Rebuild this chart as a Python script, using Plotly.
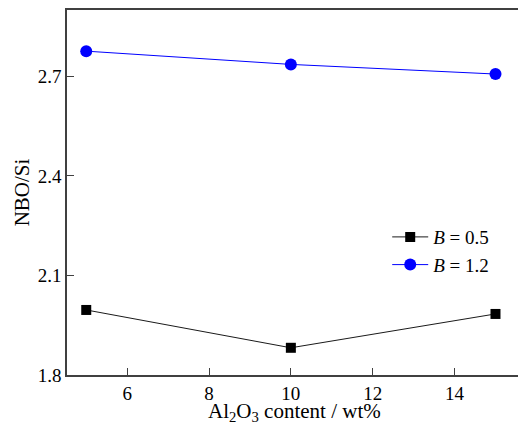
import plotly.graph_objects as go

# Al2O3 content (wt%) and NBO/Si for two basicity levels
al2o3 = [5, 10, 15]
nbo_si_b05 = [1.996, 1.882, 1.984]
nbo_si_b12 = [2.776, 2.736, 2.707]
series_names = ["<i>B</i> = 0.5", "<i>B</i> = 1.2"]
y_ticks = [1.8, 2.1, 2.4, 2.7]
x_ticks = [6, 8, 10, 12, 14]
x_title = "Al<sub>2</sub>O<sub>3</sub> content / wt%"
y_title = "NBO/Si"

font_family = "Times New Roman, Liberation Serif, serif"
axis_color = "#404040"
text_size = 21

fig = go.Figure()
fig.add_trace(go.Scatter(
    x=al2o3, y=nbo_si_b05, name=series_names[0], mode="lines+markers",
    line=dict(color="#1a1a1a", width=1),
    marker=dict(symbol="square", size=10, color="black"),
))
fig.add_trace(go.Scatter(
    x=al2o3, y=nbo_si_b12, name=series_names[1], mode="lines+markers",
    line=dict(color="#0000ff", width=1),
    marker=dict(symbol="circle", size=12, color="#0000ff"),
))

# x-axis title placed as a paper annotation just below the tick labels
fig.add_annotation(
    text=x_title, xref="paper", yref="paper", x=0.505, y=0,
    xanchor="center", yanchor="top", yshift=-22, showarrow=False,
    font=dict(size=text_size, family=font_family, color="black"),
)

fig.update_layout(
    width=518, height=423,
    margin=dict(l=67, r=0, t=10, b=48),
    paper_bgcolor="white", plot_bgcolor="white",
    font=dict(family=font_family, size=text_size, color="black"),
    showlegend=True,
    legend=dict(
        x=0.71, y=0.43, xanchor="left", yanchor="top",
        bgcolor="rgba(0,0,0,0)", font=dict(size=19, family=font_family),
        tracegroupgap=0, itemwidth=36,
    ),
    xaxis=dict(
        range=[4.53, 15.55], tickvals=x_ticks, ticktext=[str(v) for v in x_ticks],
        ticks="inside", ticklen=7, tickwidth=1, tickcolor=axis_color,
        showline=True, linecolor=axis_color, linewidth=1.5, mirror=True,
        showgrid=False, zeroline=False, automargin=False,
        tickfont=dict(size=19, family=font_family),
    ),
    yaxis=dict(
        range=[1.8, 2.9], tickvals=y_ticks, ticktext=[f"{v:.1f}" for v in y_ticks],
        ticks="inside", ticklen=7, tickwidth=1, tickcolor=axis_color,
        showline=True, linecolor=axis_color, linewidth=1.5,
        showgrid=False, zeroline=False, automargin=False,
        title=dict(text=y_title, standoff=2, font=dict(size=text_size, family=font_family)),
        tickfont=dict(size=19, family=font_family),
    ),
)

fig.write_html("out.html")
